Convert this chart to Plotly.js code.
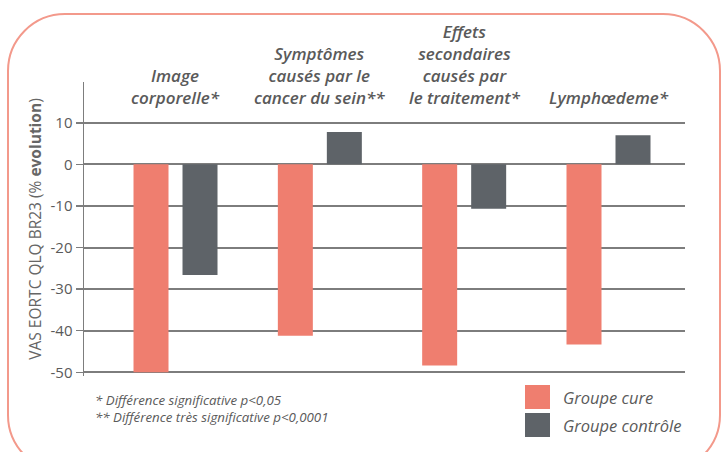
<!DOCTYPE html>
<html>
<head>
<meta charset="utf-8">
<script src="https://cdn.plot.ly/plotly-3.0.1.min.js"></script>
<style>
  html, body { margin: 0; padding: 0; background: #ffffff; overflow: hidden; }
  #frame { position: absolute; left: 7px; top: 13px; width: 714px; height: 460px;
           border: 2px solid #f3998b; border-radius: 58px; box-sizing: border-box; }
  #chart { position: absolute; left: 0; top: 0; width: 725px; height: 452px; }
</style>
</head>
<body>
<div id="frame"></div>
<div id="chart"></div>
<script>
// ---- data ----
const categories = ["Image<br>corporelle*", "Symptômes<br>causés par le<br>cancer du sein**", "Effets<br>secondaires<br>causés par<br>le traitement*", "Lymphœdeme*"];
const seriesNames = ["Groupe cure", "Groupe contrôle"];
const cureValues = [-50, -41.2, -48.4, -43.3];
const controlValues = [-26.6, 7.8, -10.7, 7.0];
const tickValues = [10, 0, -10, -20, -30, -40, -50];
const tickLabels = ["10", "0", "-10", "-20", "-30", "-40", "-50"];
const yTitle = "VAS EORTC QLQ BR23 (% <b>evolution</b>)";
const footnotes = ["* Différence significative p<0,05", "** Différence très significative p<0,0001"];

// ---- layout helpers (pixel -> paper) ----
const W = 725, H = 452;
const L = 84, R = 40, T = 82, B = 76;
const pw = W - L - R, ph = H - T - B;
const px = x => (x - L) / pw;
const py = y => (H - B - y) / ph;

const FONT = "'Open Sans', 'DejaVu Sans', sans-serif";
const cureColor = "#ef7e6f";
const ctrlColor = "#5e6368";
const textColor = "#5a5a5a";
const gridColor = "#7d7d7d";
const idx = categories.map((c, i) => i);

const barW = 0.2425, inner = 0.0485;
const traces = [
  { type: "bar", name: seriesNames[0], x: idx, y: cureValues, width: barW, offset: -barW - inner,
    marker: { color: cureColor }, showlegend: false, hoverinfo: "y" },
  { type: "bar", name: seriesNames[1], x: idx, y: controlValues, width: barW, offset: inner,
    marker: { color: ctrlColor }, showlegend: false, hoverinfo: "y" }
];

const annotations = [];
categories.forEach((c, i) => annotations.push({
  x: i, xref: "x", y: py(111), yref: "paper", yanchor: "bottom", xanchor: "center",
  text: "<i>" + c + "</i>", showarrow: false, align: "center",
  font: { family: FONT, size: 17, weight: 600, color: textColor }
}));
footnotes.forEach((f, i) => annotations.push({
  x: px(93), xref: "paper", y: py(400 + 17 * i), yref: "paper", xanchor: "left", yanchor: "middle",
  text: "<i>" + f.replace(/</g, "&lt;") + "</i>", showarrow: false,
  font: { family: FONT, size: 13.3, color: textColor }
}));
const legendColors = [cureColor, ctrlColor];
const shapes = [];
seriesNames.forEach((n, i) => {
  const top = 385 + 28 * i;
  shapes.push({ type: "rect", xref: "paper", yref: "paper",
    x0: px(525), x1: px(550), y0: py(top + 24), y1: py(top),
    fillcolor: legendColors[i], line: { width: 0 } });
  annotations.push({ x: px(561), xref: "paper", y: py(top + 12), yref: "paper",
    xanchor: "left", yanchor: "middle", text: "<i>" + n + "</i>", showarrow: false,
    font: { family: FONT, size: 16.5, color: textColor } });
});

const layout = {
  width: W, height: H,
  margin: { l: L, r: R, t: T, b: B, pad: 0 },
  paper_bgcolor: "rgba(0,0,0,0)", plot_bgcolor: "rgba(0,0,0,0)",
  barmode: "overlay",
  xaxis: { type: "linear", range: [-0.634, 3.53], showticklabels: false, showgrid: false,
           zeroline: false, showline: false, ticks: "", fixedrange: true },
  yaxis: { range: [-50.9, 19.8], tickvals: tickValues, ticktext: tickLabels,
           showgrid: true, gridcolor: gridColor, gridwidth: 2,
           zeroline: true, zerolinecolor: gridColor, zerolinewidth: 2,
           showline: true, linecolor: gridColor, linewidth: 1.5,
           ticks: "outside", ticklen: 7, tickcolor: gridColor, tickwidth: 1.5,
           tickfont: { family: FONT, size: 15, color: textColor },
           title: { text: yTitle, standoff: 5,
                    font: { family: FONT, size: 15.5, color: "#666666" } },
           fixedrange: true },
  annotations: annotations,
  shapes: shapes,
  font: { family: FONT, color: textColor }
};

Plotly.newPlot("chart", traces, layout, { displayModeBar: false, staticPlot: true });
</script>
</body>
</html>
